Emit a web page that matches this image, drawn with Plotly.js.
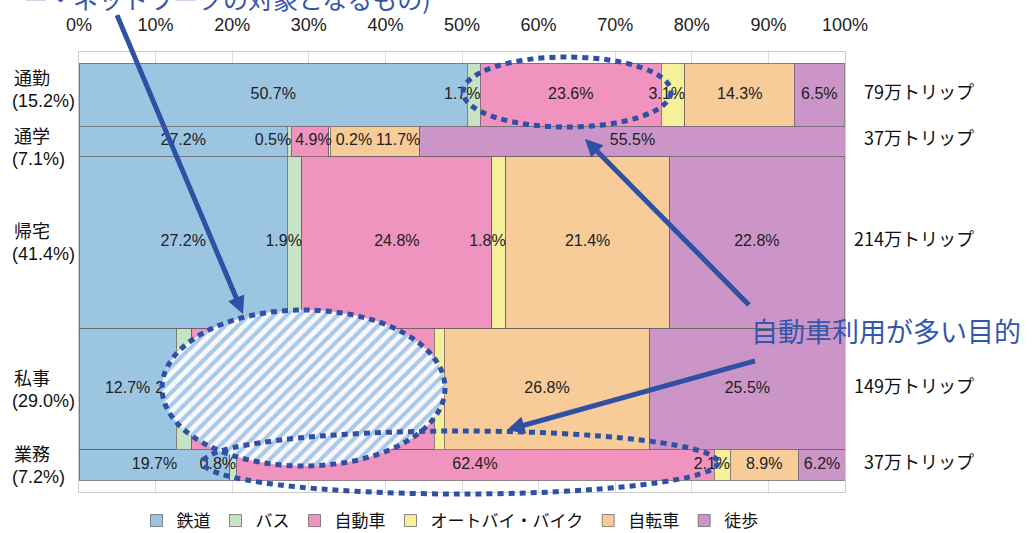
<!DOCTYPE html>
<html>
<head>
<meta charset="utf-8">
<script src="https://cdn.plot.ly/plotly-3.0.1.min.js"></script>
<style>
  html, body { margin: 0; padding: 0; background: #ffffff; }
  #chart { width: 1032px; height: 533px; }
</style>
</head>
<body>
<div id="chart"></div>
<script>
// Trip purposes (rows) and their share of all trips
const categories = ['通勤', '通学', '帰宅', '私事', '業務'];
const categoryShare = [15.2, 7.1, 41.4, 29.0, 7.2];
const tripLabels = ['79万トリップ', '37万トリップ', '214万トリップ', '149万トリップ', '37万トリップ'];

// Travel modes and their share (%) within each purpose
const modes = ['鉄道', 'バス', '自動車', 'オートバイ・バイク', '自転車', '徒歩'];
const rail      = [50.7, 27.2, 27.2, 12.7, 19.7];
const bus       = [1.7, 0.5, 1.9, 2.0, 0.8];
const car       = [23.6, 4.9, 24.8, 31.7, 62.4];
const motorbike = [3.1, 0.2, 1.8, 1.3, 2.1];
const bicycle   = [14.3, 11.7, 21.4, 26.8, 8.9];
const walk      = [6.5, 55.5, 22.8, 25.5, 6.2];

// Axis ticks (percent of trips)
const xTicks = [0, 10, 20, 30, 40, 50, 60, 70, 80, 90, 100];

const modeValues = [rail, bus, car, motorbike, bicycle, walk];
const modeColors = ['#9cc5e1', '#c6e3c4', '#f093bf', '#f6f09a', '#f7cc98', '#cc95c7'];

// Callout texts
const calloutTop = 'ー・ネットワークの対象となるもの)';
const calloutCar = '自動車利用が多い目的';

// ---- geometry helpers ----
const W = 1032, H = 533;
const M = { l: 79, r: 187, t: 52, b: 41, autoexpand: false };
const plotW = W - M.l - M.r;
const plotH = H - M.t - M.b;
const totalShare = categoryShare.reduce((a, b) => a + b, 0);
const padTop = 11, padBottom = 12;                  // px of empty frame above / below the rows
const unitPx = (plotH - padTop - padBottom) / totalShare;
const yRange = [totalShare + padBottom / unitPx, -padTop / unitPx];
const pxPerPct = plotW / 100;

// data -> paper (for items that sit on or beyond the frame edge)
const xPaper = x => x / 100;
const yPaper = y => (yRange[0] - y) / (yRange[0] - yRange[1]);
const yPaperPx = py => (M.t + plotH - py) / plotH;   // page pixel row -> paper

// row centres from the cumulative shares
const rowCenter = [];
let acc = 0;
categoryShare.forEach(s => { rowCenter.push(acc + s / 2); acc += s; });

// ---- bars (variable-height stacked rows) ----
const traces = modes.map((m, i) => ({
  type: 'bar',
  orientation: 'h',
  name: m,
  x: modeValues[i],
  y: rowCenter,
  width: categoryShare,
  marker: { color: modeColors[i], line: { color: 'rgba(105,95,100,0.75)', width: 1 } },
  hoverinfo: 'skip'
}));

// ---- value labels: centred, narrow segments end-aligned, then pushed right on collision ----
const labelFont = { family: 'Liberation Sans Narrow, Liberation Sans, Arial, sans-serif', size: 16, color: '#222222' };
const ctx = document.createElement('canvas').getContext('2d');
ctx.font = labelFont.size + 'px ' + labelFont.family;
const lx = [], ly = [], lt = [];
categories.forEach((c, r) => {
  let start = 0;
  let prevEnd = -Infinity;
  modeValues.forEach(vals => {
    const v = vals[r];
    const txt = v.toFixed(1) + '%';
    const w = ctx.measureText(txt).width;
    const segL = start * pxPerPct, segR = (start + v) * pxPerPct;
    let left = (v < 4) ? segR - w : (segL + segR) / 2 - w / 2;
    if (left < prevEnd + 4) left = prevEnd + 4;
    prevEnd = left + w;
    lx.push((left + w / 2) / pxPerPct);
    ly.push(rowCenter[r]);
    lt.push(txt);
    start += v;
  });
});
traces.push({
  type: 'scatter', mode: 'text', x: lx, y: ly, text: lt,
  textposition: 'middle center', textfont: labelFont,
  cliponaxis: false, hoverinfo: 'skip', showlegend: false
});

// ---- highlight ellipses (data units: x in %, y in row units) ----
const yOf = py => (py - M.t - padTop) / unitPx;      // page pixel row -> row units
const xOf = px => (px - M.l) / pxPerPct;             // page pixel column -> %
const ellCommute  = { x0: xOf(463), x1: xOf(671), y0: yOf(57),  y1: yOf(127) };
const ellBusiness = { x0: xOf(203), x1: xOf(718), y0: yOf(431), y1: yOf(494) };
const ellPrivate  = { x0: xOf(162), x1: xOf(445), y0: yOf(310), y1: yOf(466) };

// hatched fill for the private-purpose ellipse
const hx = [], hy = [];
{
  const cx = (ellPrivate.x0 + ellPrivate.x1) / 2, cy = (ellPrivate.y0 + ellPrivate.y1) / 2;
  const rx = (ellPrivate.x1 - ellPrivate.x0) / 2, ry = (ellPrivate.y1 - ellPrivate.y0) / 2;
  for (let k = 0; k <= 120; k++) {
    const t = 2 * Math.PI * k / 120;
    hx.push(cx + rx * Math.cos(t));
    hy.push(cy + ry * Math.sin(t));
  }
}
traces.push({
  type: 'scatter', mode: 'lines', x: hx, y: hy, fill: 'toself',
  fillcolor: 'rgba(255,255,255,0.93)',
  fillpattern: { shape: '/', bgcolor: 'rgba(255,255,255,0.93)', fgcolor: '#a6c9ea', size: 9, solidity: 0.45 },
  line: { width: 0, color: 'rgba(0,0,0,0)' },
  hoverinfo: 'skip', showlegend: false
});

const blue = '#2f50a5';
const dotted = e => ({
  type: 'circle', xref: 'paper', yref: 'paper',
  x0: xPaper(e.x0), x1: xPaper(e.x1), y0: yPaper(e.y1), y1: yPaper(e.y0),
  line: { color: blue, width: 5, dash: '6px,5px' }, fillcolor: 'rgba(0,0,0,0)'
});
const shapes = [dotted(ellCommute), dotted(ellBusiness), dotted(ellPrivate)];

// ---- row captions (name + share on two lines), spread apart where neighbours collide ----
const nameFont  = { family: 'Noto Sans CJK JP, sans-serif', size: 18, color: '#111111' };
const shareFont = { family: 'Liberation Sans, Arial, sans-serif', size: 18, color: '#111111' };
const lineStep = 24, capH = 46, capGap = 12;
const capCenter = rowCenter.map(y => M.t + padTop + y * unitPx);
for (let i = 0; i < capCenter.length - 1; i++) {
  const overlap = (capCenter[i] + capH / 2 + capGap) - (capCenter[i + 1] - capH / 2);
  if (overlap > 0) { capCenter[i] -= overlap / 2; capCenter[i + 1] += overlap / 2; }
}

const annotations = [];
const capX = (12 - M.l) / plotW;
categories.forEach((c, r) => {
  annotations.push({
    xref: 'paper', yref: 'paper', x: capX, y: yPaperPx(capCenter[r] - lineStep / 2),
    xanchor: 'left', yanchor: 'middle', showarrow: false, text: c, font: nameFont
  });
  annotations.push({
    xref: 'paper', yref: 'paper', x: capX - 2 / plotW, y: yPaperPx(capCenter[r] + lineStep / 2),
    xanchor: 'left', yanchor: 'middle', showarrow: false,
    text: '(' + categoryShare[r].toFixed(1) + '%)', font: shareFont
  });
  annotations.push({
    xref: 'paper', yref: 'y', x: (976 - M.l) / plotW, y: rowCenter[r], yshift: 4,
    xanchor: 'right', yanchor: 'middle', showarrow: false,
    text: tripLabels[r], font: nameFont
  });
});

annotations.push({
  xref: 'paper', yref: 'paper', x: (433 - M.l) / plotW, y: yPaperPx(-2),
  xanchor: 'right', yanchor: 'middle', showarrow: false,
  text: calloutTop, font: { family: 'Noto Sans CJK JP, sans-serif', size: 25, color: '#3556ad' }
});
annotations.push({
  xref: 'paper', yref: 'paper', x: (749 - M.l) / plotW, y: yPaperPx(330),
  xanchor: 'left', yanchor: 'middle', showarrow: false,
  text: calloutCar, font: { family: 'Noto Sans CJK JP, sans-serif', size: 27, color: '#3556ad' }
});

const arrow = (tailPx, tipPx) => ({
  xref: 'x', yref: 'y', axref: 'x', ayref: 'y',
  x: xOf(tipPx[0]), y: yOf(tipPx[1]), ax: xOf(tailPx[0]), ay: yOf(tailPx[1]),
  showarrow: true, arrowhead: 2, arrowsize: 0.7, arrowwidth: 5, arrowcolor: blue, standoff: 0
});
annotations.push(arrow([114, 8], [243, 314]));
annotations.push(arrow([752, 308], [585, 139]));
annotations.push(arrow([758, 360], [507, 430]));

const layout = {
  width: W, height: H,
  margin: M,
  paper_bgcolor: '#ffffff', plot_bgcolor: '#ffffff',
  barmode: 'stack',
  showlegend: true,
  legend: {
    orientation: 'h', x: (450 - M.l) / plotW, xanchor: 'center',
    y: yPaperPx(521), yanchor: 'middle',
    font: { family: 'Noto Sans CJK JP, sans-serif', size: 17, color: '#111111' },
    traceorder: 'normal', itemclick: false, itemdoubleclick: false
  },
  xaxis: {
    side: 'top', range: [0, 100], tickvals: xTicks, ticktext: xTicks.map(v => v + '%'),
    ticks: '', ticklabelstandoff: 13,
    tickfont: { family: 'Liberation Sans Narrow, Liberation Sans, Arial, sans-serif', size: 18, color: '#222222' },
    showgrid: true, gridcolor: '#dcdcdc', gridwidth: 1,
    showline: true, mirror: true, linecolor: '#cccccc', linewidth: 1,
    zeroline: false, fixedrange: true
  },
  yaxis: {
    range: yRange, showticklabels: false, ticks: '', showgrid: false, zeroline: false,
    showline: true, mirror: true, linecolor: '#cccccc', linewidth: 1, fixedrange: true
  },
  shapes: shapes,
  annotations: annotations
};

Plotly.newPlot('chart', traces, layout, { displayModeBar: false, staticPlot: true });
</script>
</body>
</html>
